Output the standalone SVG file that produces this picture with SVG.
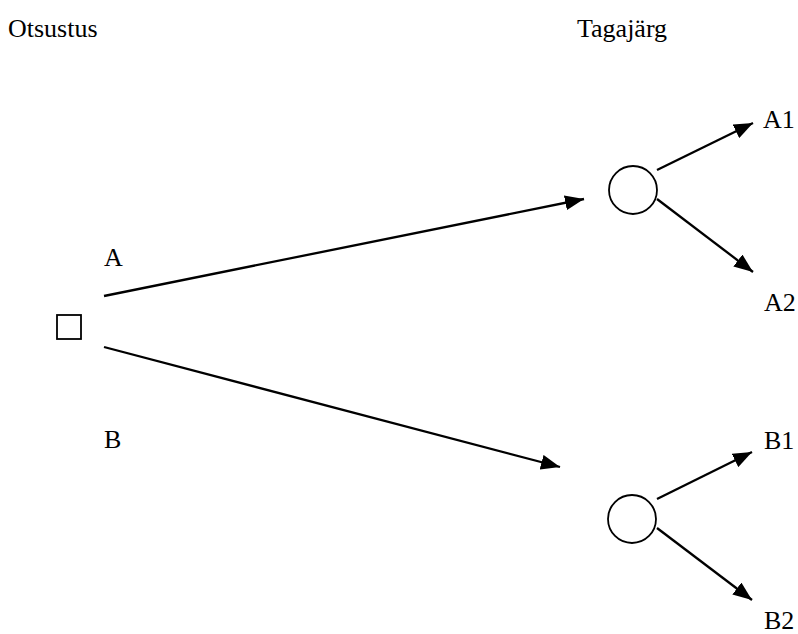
<svg xmlns="http://www.w3.org/2000/svg" width="798" height="634" viewBox="0 0 798 634">
<style>
text{font-family:"Liberation Serif","Times New Roman",serif;font-size:26px;fill:#000}
.ln{stroke:#000;stroke-width:2.3;fill:none}
.nd{stroke:#000;stroke-width:1.8;fill:#fff}
</style>
<defs>
<marker id="ah" markerUnits="userSpaceOnUse" markerWidth="21" markerHeight="15" refX="19" refY="7.5" orient="auto">
<path d="M0,0 L19,7.5 L0,15 Z" fill="#000"/>
</marker>
</defs>
<rect width="798" height="634" fill="#fff"/>
<text x="8" y="37">Otsustus</text>
<text x="577" y="37">Tagajärg</text>
<g id="connectors">
<line class="ln" x1="104" y1="296" x2="584" y2="199" marker-end="url(#ah)"/>
<line class="ln" x1="104" y1="347" x2="560" y2="467" marker-end="url(#ah)"/>
<line class="ln" x1="657" y1="170" x2="753" y2="123" marker-end="url(#ah)"/>
<line class="ln" x1="657" y1="199" x2="753" y2="272" marker-end="url(#ah)"/>
<line class="ln" x1="657" y1="499" x2="752" y2="452" marker-end="url(#ah)"/>
<line class="ln" x1="657" y1="528" x2="752" y2="600" marker-end="url(#ah)"/>
</g>
<g id="decision"><rect class="nd" x="57" y="315" width="24" height="24"/></g>
<g id="chanceA"><circle class="nd" cx="633" cy="190" r="24"/></g>
<g id="chanceB"><circle class="nd" cx="632" cy="519" r="24"/></g>
<g id="labelA"><text x="104" y="266">A</text></g>
<g id="labelB"><text x="104" y="448">B</text></g>
<g id="labelA1"><text x="763" y="128">A1</text></g>
<g id="labelA2"><text x="764" y="311">A2</text></g>
<g id="labelB1"><text x="764" y="449">B1</text></g>
<g id="labelB2"><text x="764" y="629">B2</text></g>
</svg>
